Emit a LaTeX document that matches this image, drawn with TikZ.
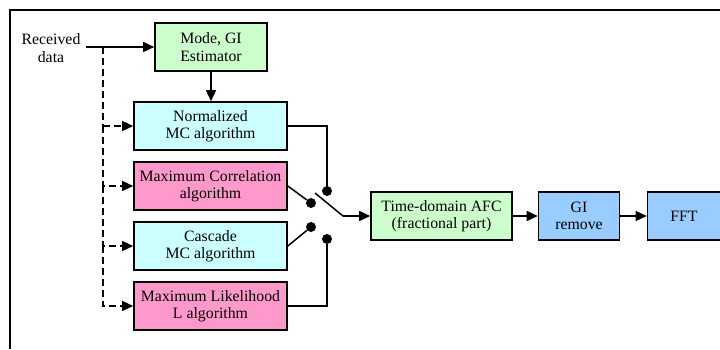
\documentclass[tikz,border=0pt]{standalone}
\usepackage{fontspec}
\setmainfont{Liberation Serif}
\usetikzlibrary{arrows.meta}
\definecolor{boxgreen}{HTML}{CCFFCC}
\definecolor{boxcyan}{HTML}{CCFFFF}
\definecolor{boxpink}{HTML}{FF99CC}
\definecolor{boxblue}{HTML}{99CCFF}
\tikzset{
  blk/.style={draw=black, line width=1.6pt, rectangle, inner sep=0pt,
    align=center, font=\fontsize{15.8}{17.5}\selectfont},
  algo/.style={blk, minimum width=153pt, minimum height=48pt},
  wire/.style={line width=1.5pt},
  arr/.style={wire, -{Triangle[length=11pt,width=10pt]}},
  darr/.style={arr, dash pattern=on 7pt off 4pt},
  dot/.style={circle, fill=black, inner sep=0pt, minimum size=10pt},
}
\begin{document}
\begin{tikzpicture}[x=1pt, y=-1pt]
\useasboundingbox (0,0) rectangle (720,349);
% outer frame (top and left edges)
\draw[line width=1.6pt] (720,10) -- (10,10) -- (10,349);

% input label
\node[align=center, font=\fontsize{15.8}{17.5}\selectfont] (rx) at (51,48) {Received\\data};
\coordinate (rxo) at (86,47);
\coordinate (tap) at (103,47);

% blocks
\node[blk, fill=boxgreen, minimum width=112pt, minimum height=48pt] (mode) at (211,47) {Mode, GI\\Estimator};
\node[algo, fill=boxcyan] (norm) at (210.5,126) {Normalized\\MC algorithm};
\node[algo, fill=boxpink] (mcor) at (210.5,186) {Maximum Correlation\\algorithm};
\node[algo, fill=boxcyan] (casc) at (210.5,246) {Cascade\\MC algorithm};
\node[algo, fill=boxpink] (mlik) at (210.5,306) {Maximum Likelihood\\L algorithm};
\node[blk, fill=boxgreen, minimum width=141pt, minimum height=48pt] (afc) at (441.5,216) {Time-domain AFC\\(fractional part)};
\node[blk, fill=boxblue, minimum width=81pt, minimum height=48pt] (gir) at (579,216) {GI\\remove};
\node[blk, fill=boxblue, minimum width=73pt, minimum height=48pt] (fft) at (684,216) {FFT};

% data path
\draw[arr] (rxo) -- (mode.west);
\draw[arr] (mode.south) -- (mode.south |- norm.north);
\draw[wire, dash pattern=on 7pt off 4pt] (tap) -- (103,126);
\draw[darr] (103,126) -- (norm.west);
\draw[darr] (103,126) |- (mcor.west);
\draw[darr] (103,186) |- (casc.west);
\draw[darr] (103,246) |- (mlik.west);

% selector switch contacts
\node[dot] (c1) at (327,191) {};
\node[dot] (c2) at (311,203) {};
\node[dot] (c3) at (311,227) {};
\node[dot] (c4) at (327,239) {};
\draw[wire] (norm.east) -| (c1);
\draw[wire] (mcor.east) -- (c2);
\draw[wire] (casc.east) -- (c3);
\draw[wire] (mlik.east) -| (c4);

% switch blade and output chain
\coordinate (blade) at (315,193);
\coordinate (pivot) at (343,216);
\draw[wire] (blade) -- (pivot);
\draw[arr] (pivot) -- (afc.west);
\draw[arr] (afc.east) -- (gir.west);
\draw[arr] (gir.east) -- (fft.west);
\end{tikzpicture}
\end{document}
